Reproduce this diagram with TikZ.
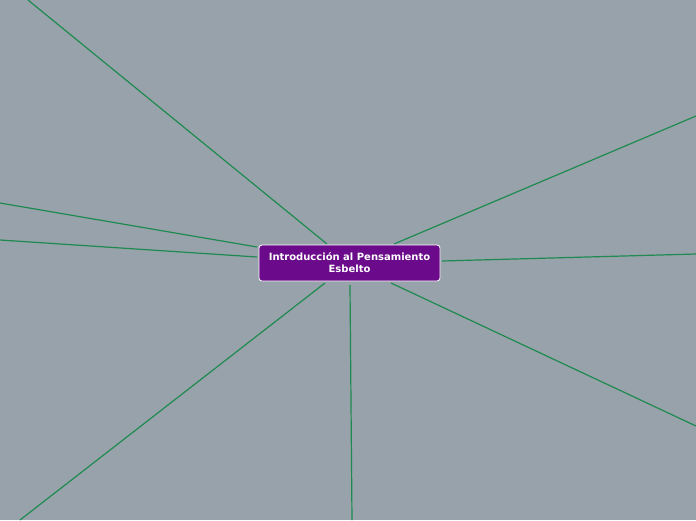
\documentclass[tikz,border=0pt]{standalone}
\usepackage{fontspec}
\setmainfont{DejaVu Sans}
\definecolor{bg}{HTML}{98A2AA}
\definecolor{edge}{HTML}{1E8A50}
\definecolor{topic}{HTML}{6B0A8A}
\begin{document}
\begin{tikzpicture}[x=1pt,y=-1pt,
  conn/.style={draw=edge,line width=1.2pt},
  central/.style={draw=white,fill=topic,rounded corners=3pt,line width=0.8pt,
    text=white,font=\bfseries\fontsize{10}{12}\selectfont,align=center,
    minimum width=181pt,minimum height=36pt,inner sep=2pt}]
\fill[bg] (0,0) rectangle (696,520);
\useasboundingbox (0,0) rectangle (696,520);
\coordinate (e1) at (28,0);
\coordinate (e2) at (0,203);
\coordinate (e3) at (0,240);
\coordinate (e4) at (696,116);
\coordinate (e5) at (696,254);
\coordinate (e6) at (696,426);
\coordinate (e7) at (352,520);
\coordinate (e8) at (20,520);
\coordinate (s1) at (327,244);
\coordinate (s2) at (257,247);
\coordinate (s3) at (257,257);
\coordinate (s4) at (394,244);
\coordinate (s5) at (442,261);
\coordinate (s6) at (391,283);
\coordinate (s7) at (350,285);
\coordinate (s8) at (325,283);
\draw[conn] (e1) -- (s1);
\draw[conn] (e2) -- (s2);
\draw[conn] (e3) -- (s3);
\draw[conn] (e4) -- (s4);
\draw[conn] (e5) -- (s5);
\draw[conn] (e6) -- (s6);
\draw[conn] (e7) -- (s7);
\draw[conn] (e8) -- (s8);
\node[central] (c) at (349.5,263) {Introducción al Pensamiento\\Esbelto};
\end{tikzpicture}
\end{document}
